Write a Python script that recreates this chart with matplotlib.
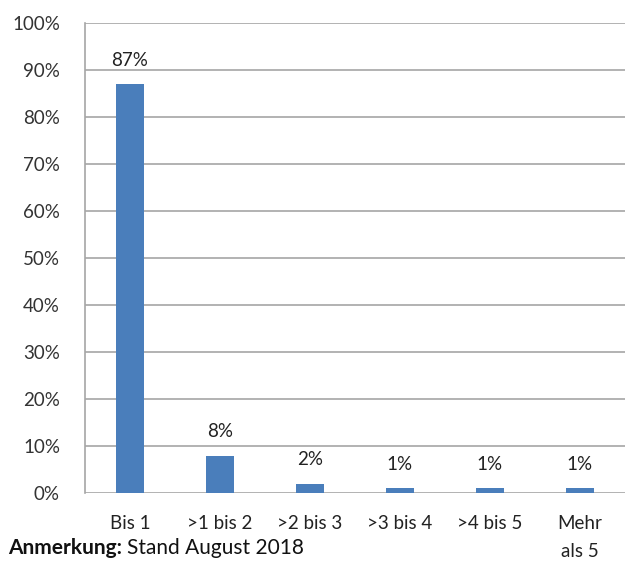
import matplotlib.pyplot as plt

categories = ["Bis 1", ">1 bis 2", ">2 bis 3", ">3 bis 4", ">4 bis 5", "Mehr\nals 5"]
values = [87, 8, 2, 1, 1, 1]
labels = ["87%", "8%", "2%", "1%", "1%", "1%"]
yticks = [0, 10, 20, 30, 40, 50, 60, 70, 80, 90, 100]

plt.rcParams['font.family'] = ['Lato', 'DejaVu Sans']
FS = 13.5
fig = plt.figure(figsize=(6.25, 5.61), dpi=100)
ax = fig.add_axes([0.136, 0.121, 0.864, 0.838])

x = range(len(categories))
ax.bar(x, values, width=0.32, color="#4a7ebb", zorder=3)
for xi, v, lab in zip(x, values, labels):
    ax.annotate(lab, (xi, v), xytext=(0, 11), textcoords="offset points",
                ha="center", va="bottom", fontsize=FS, color="#222222")

ax.set_xlim(-0.5, len(categories) - 0.5)
ax.set_ylim(0, 100)
ax.set_yticks(yticks)
ax.set_yticklabels([f"{t}%" for t in yticks], fontsize=FS, color="#333333")
ax.set_xticks(list(x))
ax.set_xticklabels(categories, fontsize=FS, color="#222222", va="top", linespacing=1.75)
ax.tick_params(axis="both", length=0)
ax.tick_params(axis="y", pad=18)
ax.tick_params(axis="x", pad=16)
ax.grid(axis="y", color="#a6a6a6", linewidth=1.2, zorder=0)
for s in ["top", "right", "bottom"]:
    ax.spines[s].set_visible(False)
ax.spines["left"].set_color("#a6a6a6")
ax.spines["left"].set_linewidth(1.2)

FA = 15
t1 = fig.text(0.013, 0.012, "Anmerkung:", fontsize=FA, fontweight="bold",
              va="baseline", ha="left", color="#111111")
fig.canvas.draw()
bb = t1.get_window_extent(renderer=fig.canvas.get_renderer())
fig.text(bb.x1 / fig.bbox.width + 0.008, 0.012, "Stand August 2018", fontsize=FA,
         va="baseline", ha="left", color="#111111")
fig.savefig("out.png", dpi=100)
